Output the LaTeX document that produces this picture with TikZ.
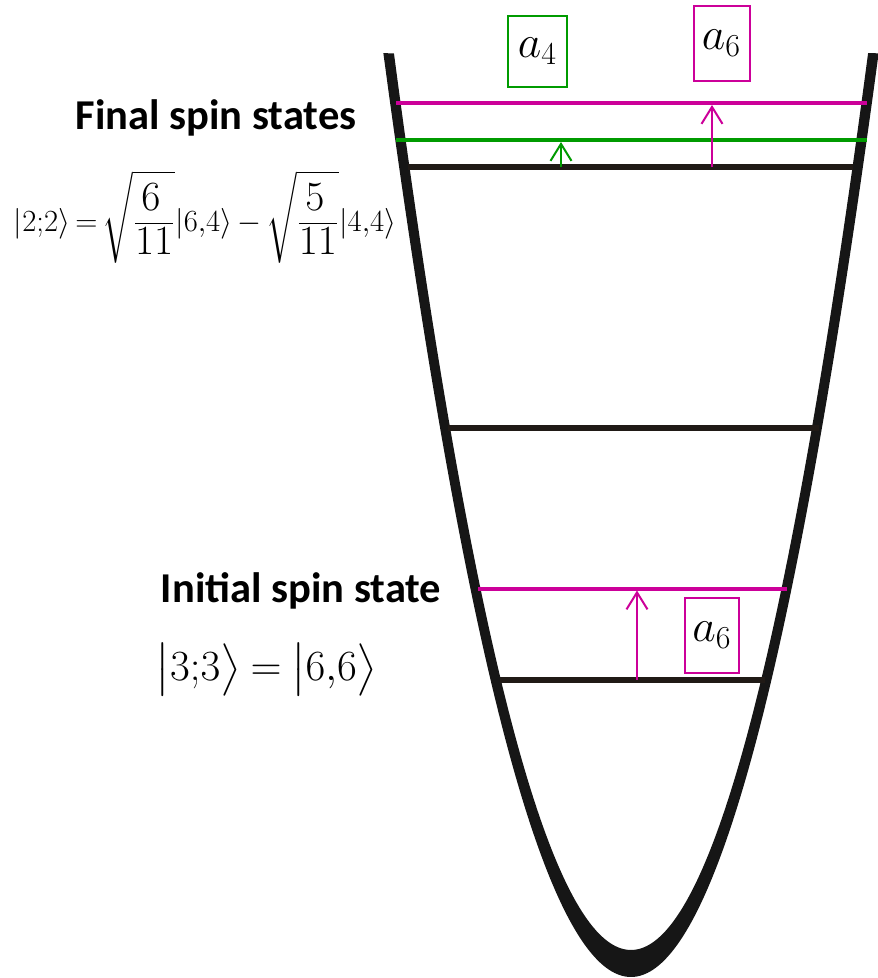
\RequirePackage{fix-cm}
\documentclass[tikz,border=0pt]{standalone}
\usepackage{amsmath}
\usepackage{fontspec}
\newfontfamily\calibri{Carlito}
\usetikzlibrary{arrows.meta,positioning,calc}
\definecolor{magen}{RGB}{204,0,153}
\definecolor{grn}{RGB}{0,155,0}
\definecolor{wallc}{RGB}{22,22,22}
\definecolor{levc}{RGB}{32,26,22}
\newcommand{\bigdig}[1]{\scalebox{1.35}{$#1$}}

\begin{document}
\begin{tikzpicture}[
	level/.style={line width=0.12cm,levc},
	colev/.style={line width=0.08cm},
	jump/.style={line width=0.04cm,shorten >=0.03cm,-{Straight Barb[length=0.34cm,width=0.42cm]}},
	coef/.style={draw,line width=0.04cm,inner sep=0pt,minimum width=1.12cm,minimum height=1.5cm,font=\fontsize{26}{30}\selectfont},
	heading/.style={font=\calibri\bfseries\fontsize{24.2}{28}\selectfont,anchor=base}
]
	\useasboundingbox (0,0) rectangle (17.54,19.56);
	
	% potential well
	\fill[wallc] plot[domain=-4.953:4.953,samples=90,smooth] ({12.62+\x},{0.02+0.7532*(\x)*(\x)})
		-- plot[domain=4.742:-4.742,samples=90,smooth] ({12.62+\x},{0.56+0.7977*(\x)*(\x)}) -- cycle;
	
	% level ends
	\coordinate (m1L) at (7.92,17.49);
	\coordinate (m1R) at (17.34,17.49);
	\coordinate (g1L) at (7.92,16.75);
	\coordinate (g1R) at (17.34,16.75);
	\coordinate (b1L) at (8.16,16.21);
	\coordinate (b1R) at (17.06,16.21);
	\coordinate (b2L) at (8.96,11.0);
	\coordinate (b2R) at (16.38,11.0);
	\coordinate (m2L) at (9.56,7.78);
	\coordinate (m2R) at (15.74,7.78);
	\coordinate (b3L) at (10.0,5.96);
	\coordinate (b3R) at (15.3,5.96);
	
	% levels
	\draw[level] (b1L) -- (b1R);
	\draw[level] (b2L) -- (b2R);
	\draw[level] (b3L) -- (b3R);
	\draw[colev,grn] (g1L) -- (g1R);
	\draw[colev,magen] (m1L) -- (m1R);
	\draw[colev,magen] (m2L) -- (m2R);
	
	% transitions
	\coordinate (t4) at (11.22,16.21);
	\coordinate (t6) at (14.24,16.21);
	\coordinate (t6b) at (12.74,5.96);
	\draw[jump,grn] (t4) -- (t4 |- g1L);
	\draw[jump,magen] (t6) -- (t6 |- m1L);
	\draw[jump,magen] (t6b) -- (t6b |- m2L);
	
	% coefficients
	\node[coef,draw=grn,minimum width=1.18cm,minimum height=1.42cm] (c4) at (10.75,18.53) {$a_4$};
	\node[coef,draw=magen] (c6) at (14.43,18.69) {$a_6$};
	\node[coef,draw=magen,minimum width=1.08cm] (c6b) at (14.24,6.85) {$a_6$};
	
	% labels
	\node[heading] (fin) at (4.32,16.96) {Final spin states};
	\node (fineq) at (4.1,15.22) {\fontsize{17.5}{22}\selectfont
		$\lvert 2{;}2\rangle\,{=}\,\sqrt{\dfrac{\bigdig{6}}{\bigdig{11}}}\lvert 6{,}4\rangle\,{-}\,\sqrt{\dfrac{\bigdig{5}}{\bigdig{11}}}\lvert 4{,}4\rangle$};
	\node[heading] (ini) at (6.02,7.5) {Initial spin state};
	\node (inieq) at (5.33,6.17) {\fontsize{24.5}{30}\selectfont
		$\big|3{;}3\big\rangle\:{=}\:\big|6{,}6\big\rangle$};
\end{tikzpicture}
\end{document}
